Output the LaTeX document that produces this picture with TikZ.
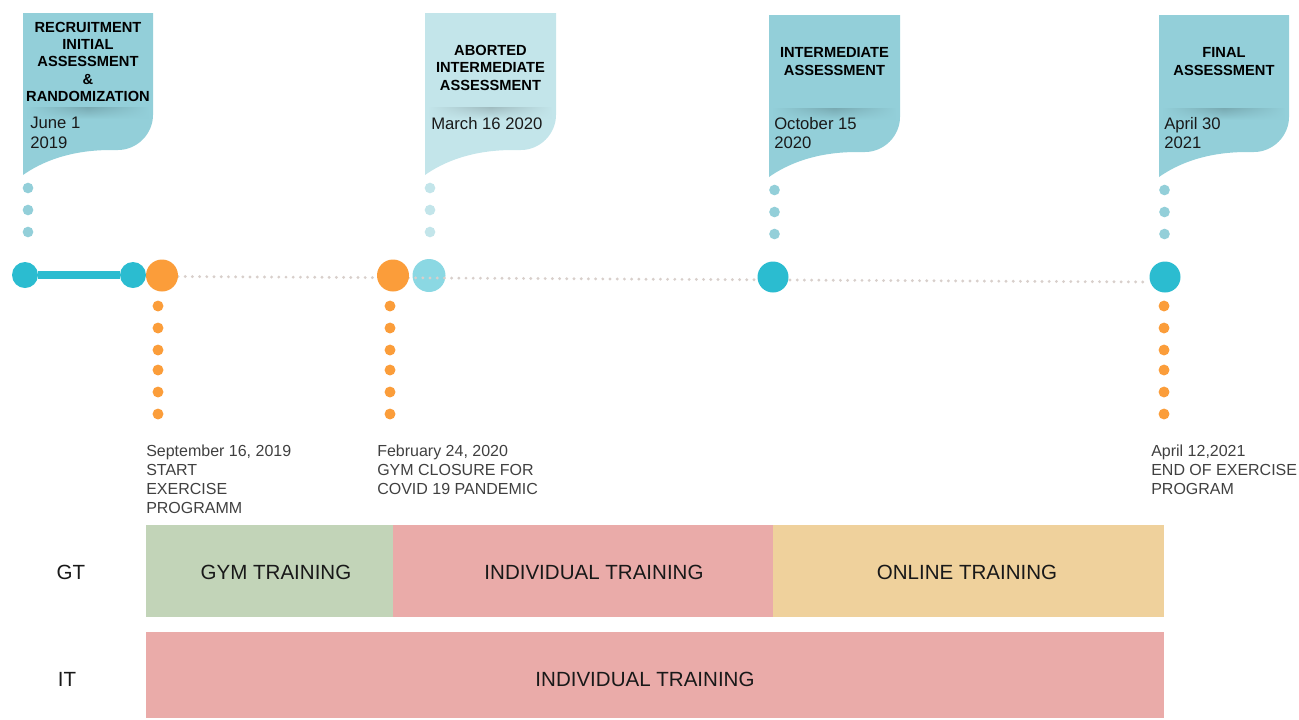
\documentclass[tikz,border=0pt]{standalone}
\usepackage{fontspec}
\setmainfont{Liberation Sans}
\usetikzlibrary{fadings}
\definecolor{flagc}{HTML}{93CFD9}
\definecolor{flaglight}{HTML}{C3E5EA}
\definecolor{tealc}{HTML}{2BBCD0}
\definecolor{lteal}{HTML}{8BD8E3}
\definecolor{orangec}{HTML}{FB9D3A}
\definecolor{grayd}{HTML}{D8CFCB}
\definecolor{gymc}{HTML}{C2D4B8}
\definecolor{indc}{HTML}{EAABA9}
\definecolor{onlc}{HTML}{EFD19C}
\definecolor{txtgray}{HTML}{404040}
\tikzfading[name=sidefade, left color=transparent!100, right color=transparent!100, middle color=transparent!0]
\newcommand\drawflag[6]{%
  \fill[#5] (#1,#3) -- (#2,#3) -- (#2,#4-35) .. controls (#2,#4-16) and (#2-16,#4) .. (#2-35,#4)
    -- (#1+88,#4) .. controls (#1+45,#4) and (#1+17,#4+13) .. (#1,#4+25) -- cycle;
  \shade[top color=#5!82!black, bottom color=#5, path fading=sidefade, fit fading=true] (#1+4,#6) rectangle (#2-4,#6+12);
}
\tikzset{
  hdr/.style={font=\bfseries\fontsize{11}{13.1}\selectfont, align=center, anchor=north, inner sep=0pt, text=black},
  datet/.style={font=\fontsize{12.5}{14.6}\selectfont, align=left, anchor=north west, inner sep=0pt, text=black!90},
  evt/.style={font=\fontsize{12}{14.25}\selectfont, align=left, anchor=north west, inner sep=0pt, text=txtgray},
  barlbl/.style={font=\fontsize{15.4}{18}\selectfont, inner sep=0pt, text=black!90},
  dotc/.style={circle, inner sep=0pt, minimum size=#1},
}
\begin{document}
\begin{tikzpicture}[x=0.75pt,y=-0.75pt]
\useasboundingbox (0,0) rectangle (1299,719);
% flags
\drawflag{23}{153}{13}{150}{flagc}{107}
\drawflag{425}{556}{13}{150}{flaglight}{107}
\drawflag{769}{900}{15}{152}{flagc}{108}
\drawflag{1159}{1289}{15}{152}{flagc}{108}
% flag texts
\node[hdr] (h1) at (88,21.5) {RECRUITMENT\\INITIAL\\ASSESSMENT\\\&\\RANDOMIZATION};
\node[datet] (d1) at (30,117) {June 1\\2019};
\node[hdr] (h2) at (490.5,45) {ABORTED\\INTERMEDIATE\\ASSESSMENT};
\node[datet] (d2) at (431,117) {March 16 2020};
\node[hdr] (h3) at (834.5,47.5) {INTERMEDIATE\\ASSESSMENT};
\node[datet] (d3) at (774,117) {October 15\\2020};
\node[hdr] (h4) at (1224,47.5) {FINAL\\ASSESSMENT};
\node[datet] (d4) at (1164,117) {April 30\\2021};
% small dots under flags
\foreach \y in {188,210,232} {
  \fill[flagc] (28,\y) circle (4pt);
  \fill[flaglight] (430,\y) circle (4pt);
}
\foreach \y in {190,212,234} {
  \fill[flagc] (774.5,\y) circle (4pt);
  \fill[flagc] (1164.5,\y) circle (4pt);
}
% timeline
\node[dotc=24.75pt, fill=lteal] (lb) at (429,275.5) {};
\coordinate (g0) at (178,276.5);
\coordinate (g1) at (1148,282);
\draw[grayd, line width=2.4pt, line cap=round, dash pattern=on 0pt off 5.4pt] (g0) -- (g1);
\node[dotc=19.5pt, fill=tealc] (t1) at (25,275) {};
\node[dotc=19.5pt, fill=tealc] (t2) at (133,275) {};
\draw[tealc, line width=6pt] (t1) -- (t2);
\node[dotc=24pt, fill=orangec] (o1) at (162,275.5) {};
\node[dotc=24pt, fill=orangec] (o2) at (393,275.5) {};
\node[dotc=23.25pt, fill=tealc] (t3) at (773,277) {};
\node[dotc=23.25pt, fill=tealc] (t4) at (1165,277) {};
% orange dot columns
\foreach \y in {306,328,350,370,392,414} {
  \fill[orangec] (158,\y) circle (4.1pt);
  \fill[orangec] (390,\y) circle (4.1pt);
  \fill[orangec] (1164,\y) circle (4.1pt);
}
% event labels
\node[evt] (e1) at (146,444.5) {September 16, 2019\\START\\EXERCISE\\PROGRAMM};
\node[evt] (e2) at (377,444.5) {February 24, 2020\\GYM CLOSURE FOR\\COVID 19 PANDEMIC};
\node[evt] (e3) at (1151,444.5) {April 12,2021\\END OF EXERCISE\\PROGRAM};
% bars
\fill[gymc] (146,525) rectangle (393,617);
\fill[indc] (393,525) rectangle (773,617);
\fill[onlc] (773,525) rectangle (1164,617);
\fill[indc] (146,632) rectangle (1164,718);
\node[barlbl] (gt) at (71,572) {GT};
\node[barlbl] (it) at (67,679) {IT};
\node[barlbl] (gym) at (276,572) {GYM TRAINING};
\node[barlbl] (ind) at (594,572) {INDIVIDUAL TRAINING};
\node[barlbl] (onl) at (967,572) {ONLINE TRAINING};
\node[barlbl] (ind2) at (645,679) {INDIVIDUAL TRAINING};
\end{tikzpicture}
\end{document}
